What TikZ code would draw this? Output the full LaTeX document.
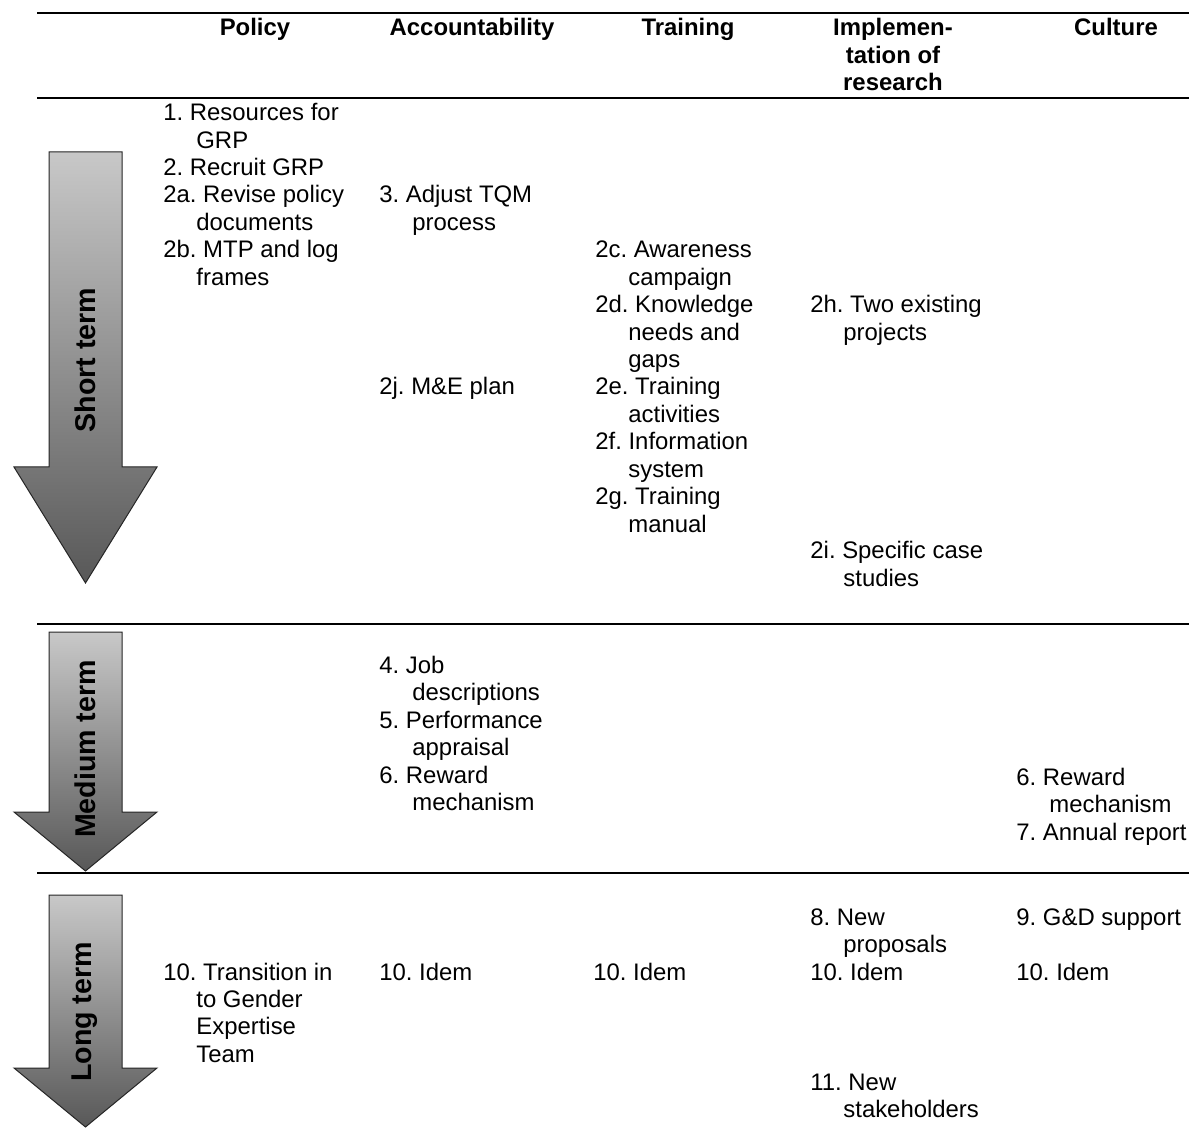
\documentclass[tikz,border=0pt]{standalone}
\usepackage{fontspec}
\setmainfont{Liberation Sans}
\frenchspacing
\definecolor{arrtop}{RGB}{200,200,200}
\definecolor{arrbot}{RGB}{88,88,88}
\newcommand{\ind}{\hspace*{16.5pt}}
\newcommand{\tl}[1]{\begin{tabular}[t]{@{}l@{}}#1\end{tabular}}
\newcommand{\tc}[1]{\begin{tabular}[t]{@{}c@{}}#1\end{tabular}}
\begin{document}
\begin{tikzpicture}[x=0.5pt,y=-0.5pt,
  item/.style={anchor=base west, inner sep=0pt, font=\fontsize{11.95}{13.7}\selectfont},
  head/.style={anchor=base, inner sep=0pt, font=\fontsize{11.95}{13.75}\selectfont\bfseries},
  rule/.style={line width=1pt},
  termarrow/.style={draw=black!85, line width=0.5pt, top color=arrtop, bottom color=arrbot},
  termlabel/.style={rotate=90, inner sep=0pt, font=\fontsize{14.3}{17}\selectfont\bfseries}
]
\useasboundingbox (0,0) rectangle (1189,1144);

% rules
\coordinate (r1a) at (37,13);  \coordinate (r1b) at (1189,13);
\coordinate (r2a) at (37,98);  \coordinate (r2b) at (1189,98);
\coordinate (r3a) at (37,624); \coordinate (r3b) at (1189,624);
\coordinate (r4a) at (37,873); \coordinate (r4b) at (1189,873);
\draw[rule] (r1a) -- (r1b);
\draw[rule] (r2a) -- (r2b);
\draw[rule] (r3a) -- (r3b);
\draw[rule] (r4a) -- (r4b);

% headers
\node[head] (hpol) at (255,36) {Policy};
\node[head] (hacc) at (472,36) {Accountability};
\node[head] (htra) at (688,36) {Training};
\node[head] (himp) at (893,36) {\tc{Implemen-\\tation of\\research}};
\node[head] (hcul) at (1116,36) {Culture};

% arrows
\path[termarrow] (49,152) -- (122,152) -- (122,467) -- (157,467) -- (85.5,583) -- (14,467) -- (49,467) -- cycle;
\path[termarrow] (49,632) -- (122,632) -- (122,812) -- (157,812) -- (85.5,871) -- (14,812) -- (49,812) -- cycle;
\path[termarrow] (49,895) -- (122,895) -- (122,1068) -- (157,1068) -- (85.5,1127) -- (14,1068) -- (49,1068) -- cycle;
\node[termlabel] (lshort) at (85,360) {Short term};
\node[termlabel] (lmed) at (85,749) {Medium term};
\node[termlabel] (llong) at (85,1012) {Long term};

% short term
\node[item] (s1) at (163,121) {\tl{1. Resources for\\\ind GRP}};
\node[item] (s2) at (163,176) {2. Recruit GRP};
\node[item] (s2a) at (163,203) {\tl{2a. Revise policy\\\ind documents}};
\node[item] (s2b) at (163,258) {\tl{2b. MTP and log\\\ind frames}};
\node[item] (s3) at (379,203) {\tl{3. Adjust TQM\\\ind process}};
\node[item] (s2j) at (379,395) {2j. M\&E plan};
\node[item] (s2c) at (595,258) {\tl{2c. Awareness\\\ind campaign}};
\node[item] (s2d) at (595,313) {\tl{2d. Knowledge\\\ind needs and\\\ind gaps}};
\node[item] (s2e) at (595,395) {\tl{2e. Training\\\ind activities}};
\node[item] (s2f) at (595,450) {\tl{2f. Information\\\ind system}};
\node[item] (s2g) at (595,505) {\tl{2g. Training\\\ind manual}};
\node[item] (s2h) at (810,313) {\tl{2h. Two existing\\\ind projects}};
\node[item] (s2i) at (810,559) {\tl{2i. Specific case\\\ind studies}};

% medium term
\node[item] (m4) at (379,673) {\tl{4. Job\\\ind descriptions}};
\node[item] (m5) at (379,728) {\tl{5. Performance\\\ind appraisal}};
\node[item] (m6) at (379,783) {\tl{6. Reward\\\ind mechanism}};
\node[item] (m6c) at (1016,785) {\tl{6. Reward\\\ind mechanism}};
\node[item] (m7c) at (1016,840) {7. Annual report};

% long term
\node[item] (l10p) at (163,980) {\tl{10. Transition in\\\ind to Gender\\\ind Expertise\\\ind Team}};
\node[item] (l10a) at (379,980) {10. Idem};
\node[item] (l10t) at (593,980) {10. Idem};
\node[item] (l8) at (810,925) {\tl{8. New\\\ind proposals}};
\node[item] (l10i) at (810,980) {10. Idem};
\node[item] (l11) at (810,1090) {\tl{11. New\\\ind stakeholders}};
\node[item] (l9) at (1016,925) {9. G\&D support};
\node[item] (l10c) at (1016,980) {10. Idem};
\end{tikzpicture}
\end{document}
